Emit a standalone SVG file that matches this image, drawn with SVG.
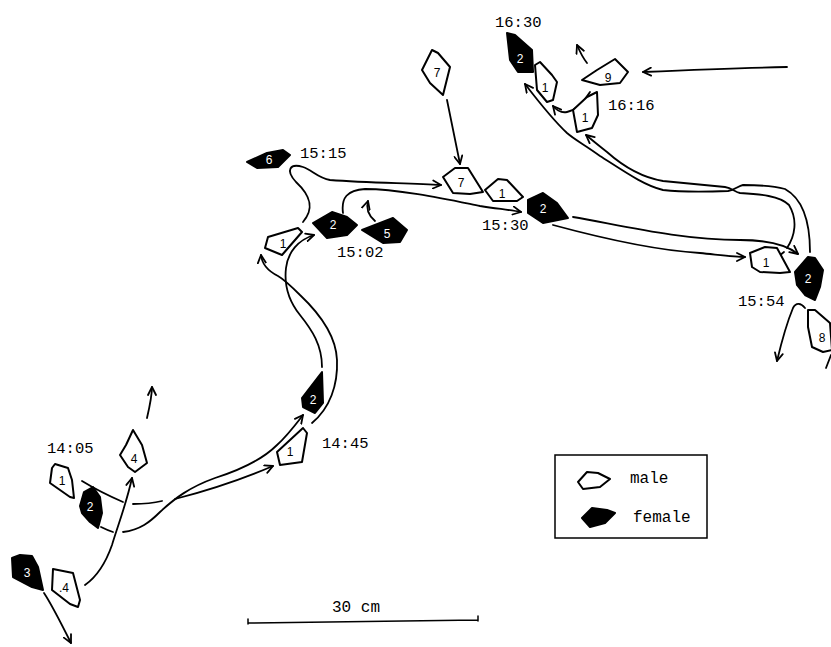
<svg xmlns="http://www.w3.org/2000/svg" width="831" height="647" viewBox="0 0 831 647">
<defs>
<marker id="ah" viewBox="0 0 10 10" refX="9" refY="5" markerWidth="10" markerHeight="10" markerUnits="userSpaceOnUse" orient="auto"><path d="M1,1 L9,5 L1,9" fill="none" stroke="#000" stroke-width="1.8" stroke-linecap="round" stroke-linejoin="round"/></marker>
</defs>
<style>
.m{fill:#fff;stroke:#000;stroke-width:2;stroke-linejoin:round}
.f{fill:#000;stroke:#000;stroke-width:2;stroke-linejoin:round}
.lm{font-family:"Liberation Sans",Arial,sans-serif;font-size:12px;text-anchor:middle;fill:#000}
.lf{font-family:"Liberation Sans",Arial,sans-serif;font-size:12px;text-anchor:middle;fill:#fff}
.t{font-family:"Liberation Mono","DejaVu Sans Mono",monospace;font-size:15.5px;fill:#000}
.c{fill:none;stroke:#000;stroke-width:1.8;stroke-linecap:round;stroke-linejoin:round}
.a{marker-end:url(#ah)}
</style>
<rect width="831" height="647" fill="#fff"/>

<g id="connectors">
<path class="c a" d="M44,593 C52,605 62,625 71,643"/>
<path class="c a" d="M85,585 C95,578 105,565 112,545 C118,525 126,505 132,478"/>
<path class="c a" d="M147,418 C150,405 152,395 152,387"/>
<path class="c" d="M82,481 Q100,492 123,502"/>
<path class="c" d="M133,504 Q150,504 162,501"/>
<path class="c a" d="M175,499 C210,490 245,478 273,466"/>
<path class="c" d="M101,527 Q107,530 113,532"/>
<path class="c a" d="M123,532 C140,530 150,522 160,512 C175,498 190,487 215,478 C240,470 262,460 277,445 C288,435 296,424 303,415"/>
<path class="c a" d="M322,367 C322,345 312,330 300,315 C288,300 284,285 286,268 C288,252 298,240 314,235"/>
<path class="c a" d="M312,423 C330,408 338,385 337,360 C336,335 318,312 300,295 C292,287 285,280 278,276 C268,271 262,265 261,255"/>
<path class="c a" d="M375,221 C368,215 366,208 368,201"/>
<path class="c a" d="M303,222 C315,208 310,195 296,182 C285,170 290,163 303,167 C312,170 318,178 330,180 C370,183 410,183 441,185"/>
<path class="c a" d="M343,213 C341,198 347,190 365,189 C400,189 450,200 480,206 C500,209 510,210 521,212"/>
<path class="c a" d="M447,100 C452,125 456,145 460,164"/>
<path class="c a" d="M573,217 C620,225 680,240 740,240 C770,240 788,246 798,254"/>
<path class="c a" d="M553,225 C590,235 650,250 700,253 C720,255 735,257 745,257"/>
<path class="c" d="M779,256 L784,252"/>
<path class="c a" d="M787,248 C795,236 798,220 789,205 C780,196 760,194 740,193 C735,192 732,188 725,187 C705,185 685,183 663,181 C645,178 625,168 607,152 C598,145 592,140 586,135"/>
<path class="c a" d="M810,252 C810,225 805,200 785,189 C770,185 750,185 743,185 C738,186 735,190 728,191 C705,192 680,192 663,190 C645,186 625,172 600,156 C585,145 575,140 567,133 C553,120 535,97 525,84"/>
<path class="c a" d="M805,308 C801,303 796,302 793,308 C788,320 782,340 777,361"/>
<path class="c" d="M826,368 L831,355"/>
<path class="c a" d="M787,67 C740,68 690,70 643,72"/>
<path class="c a" d="M587,63 C583,58 580,52 577,45"/>
<path class="c a" d="M590,92 C585,100 578,110 567,112 C562,113 558,112 553,106"/>
</g>

<g id="n-f3"><path class="f" d="M12,558 L20,555 L32,556 L38,567 L43,590 L32,587 L13,577 Z"/><text class="lf" x="27" y="577">3</text></g>
<g id="n-m4a"><path class="m" d="M53,569 L73,573 L80,600 L78,607 L70,604 L52,590 Z"/><text class="lm" x="64" y="592">.4</text></g>
<g id="n-m1a"><path class="m" d="M52,468 L55,464 L68,468 L72,480 L74,498 L70,497 L50,483 Z"/><text class="lm" x="62" y="485">1</text></g>
<g id="n-f2a"><path class="f" d="M80,506 L84,492 L93,487 L100,497 L102,513 L98,528 L90,522 L82,513 Z"/><text class="lf" x="90" y="511">2</text></g>
<g id="n-m4b"><path class="m" d="M133,430 L142,445 L147,463 L135,472 L128,467 L120,455 L126,445 Z"/><text class="lm" x="134" y="463">4</text></g>
<g id="n-m1b"><path class="m" d="M290,440 L303,428 L307,433 L302,462 L280,465 L277,452 Z"/><text class="lm" x="290" y="456">1</text></g>
<g id="n-f2b"><path class="f" d="M302,398 L322,372 L323,403 L315,413 L303,407 Z"/><text class="lf" x="313" y="404">2</text></g>
<g id="n-m1c"><path class="m" d="M268,237 L298,228 L302,232 L282,255 L265,248 Z"/><text class="lm" x="283" y="248">1</text></g>
<g id="n-f2c"><path class="f" d="M313,223 L332,212 L347,217 L357,225 L347,235 L327,238 Z"/><text class="lf" x="333" y="229">2</text></g>
<g id="n-f5"><path class="f" d="M362,230 L393,218 L407,230 L400,242 L383,243 Z"/><text class="lf" x="387" y="238">5</text></g>
<g id="n-f6"><path class="f" d="M247,162 L267,153 L283,150 L290,155 L278,167 L257,168 Z"/><text class="lf" x="269" y="164">6</text></g>
<g id="n-m7a"><path class="m" d="M422,70 L432,50 L438,53 L450,67 L443,95 L430,83 Z"/><text class="lm" x="437" y="77">7</text></g>
<g id="n-m7b"><path class="m" d="M443,177 L455,168 L468,168 L483,192 L470,194 L453,193 Z"/><text class="lm" x="461" y="187">7</text></g>
<g id="n-m1d"><path class="m" d="M485,190 L498,179 L507,180 L523,197 L517,201 L493,201 Z"/><text class="lm" x="502" y="198">1</text></g>
<g id="n-f2d"><path class="f" d="M528,200 L543,193 L557,203 L568,218 L543,223 L528,213 Z"/><text class="lf" x="543" y="213">2</text></g>
<g id="n-f2e"><path class="f" d="M507,33 L515,35 L532,50 L533,72 L518,72 L510,60 Z"/><text class="lf" x="520" y="63">2</text></g>
<g id="n-m1e"><path class="m" d="M535,65 L540,62 L552,75 L557,82 L553,100 L547,102 L537,90 Z"/><text class="lm" x="545" y="92">1</text></g>
<g id="n-m1f"><path class="m" d="M573,110 L587,97 L597,92 L598,115 L592,128 L577,132 Z"/><text class="lm" x="585" y="122">1</text></g>
<g id="n-m9"><path class="m" d="M582,80 L597,70 L615,59 L628,72 L620,83 L600,85 Z"/><text class="lm" x="608" y="82">9</text></g>
<g id="n-m1g"><path class="m" d="M750,253 L765,247 L777,248 L790,272 L780,273 L760,272 L752,267 Z"/><text class="lm" x="766" y="267">1</text></g>
<g id="n-f2g"><path class="f" d="M795,272 L808,257 L815,258 L823,270 L820,287 L815,300 L805,295 L797,285 Z"/><text class="lf" x="808" y="283">2</text></g>
<g id="n-m8"><path class="m" d="M808,310 L815,310 L830,323 L832,350 L823,352 L812,347 L808,327 Z"/><text class="lm" x="822" y="342">8</text></g>

<g id="times">
<text class="t" x="47" y="453">14:05</text>
<text class="t" x="322" y="448">14:45</text>
<text class="t" x="337" y="257">15:02</text>
<text class="t" x="300" y="158">15:15</text>
<text class="t" x="482" y="230">15:30</text>
<text class="t" x="738" y="306">15:54</text>
<text class="t" x="495" y="27">16:30</text>
<text class="t" x="608" y="110">16:16</text>
</g>

<g id="legend">
<rect x="555" y="455" width="152" height="83" fill="none" stroke="#000" stroke-width="1.5"/>
<path class="m" d="M578,482 L587,472 L598,473 L610,479 L600,487 L583,489 Z"/>
<text class="t" x="630" y="483" style="font-size:16px">male</text>
<path class="f" d="M582,518 L592,508 L607,510 L615,513 L605,523 L590,527 Z"/>
<text class="t" x="633" y="522" style="font-size:16px">female</text>
</g>

<g id="scale">
<path class="c" d="M248,623 L478,620 M248,619 L248,624 M478,616 L478,621" style="stroke-width:1.5"/>
<text class="t" x="332" y="612" style="font-size:16px">30 cm</text>
</g>
</svg>
